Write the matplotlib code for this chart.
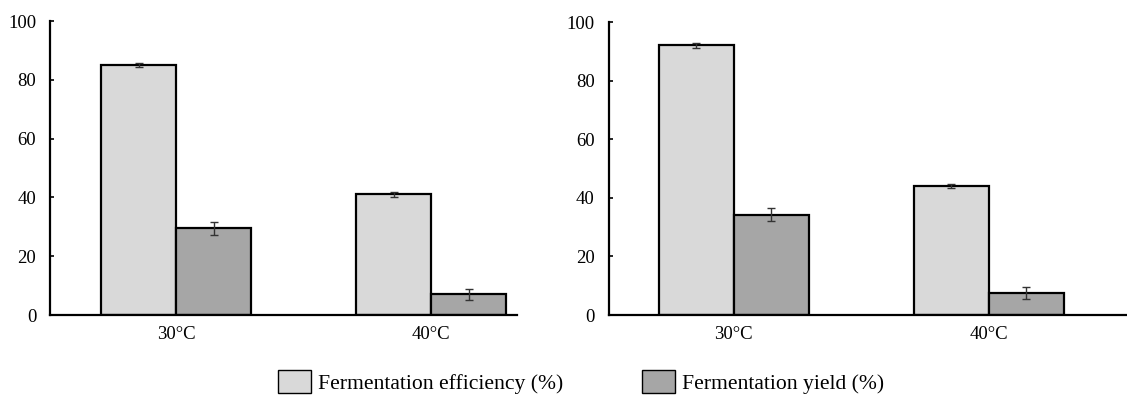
import matplotlib
matplotlib.use("Agg")
import matplotlib.pyplot as plt
import numpy as np
from matplotlib.patches import Patch

categories = ["30°C", "40°C"]
series_names = ["Fermentation efficiency (%)", "Fermentation yield (%)"]

left_efficiency = [85, 41]
left_efficiency_err = [0.8, 1.0]
left_yield = [29.5, 7]
left_yield_err = [2.2, 2.0]

right_efficiency = [92, 44]
right_efficiency_err = [0.7, 0.8]
right_yield = [34.3, 7.6]
right_yield_err = [2.1, 2.1]

yticks = [0, 20, 40, 60, 80, 100]

plt.rcParams['font.family'] = ['Liberation Serif', 'DejaVu Serif']

fig = plt.figure(figsize=(11.27, 3.98), dpi=100)
c_light = "#d9d9d9"
c_dark = "#a6a6a6"
w = 0.294

def draw(ax, eff, eff_err, yld, yld_err, xlim):
    x = np.arange(len(categories))
    ax.bar(x - w/2, eff, w, color=c_light, edgecolor="black", linewidth=1.6, zorder=2)
    ax.bar(x + w/2, yld, w, color=c_dark, edgecolor="black", linewidth=1.6, zorder=2)
    ax.errorbar(x - w/2, eff, yerr=eff_err, fmt="none", ecolor="#333333", elinewidth=1, capsize=3, zorder=3)
    ax.errorbar(x + w/2, yld, yerr=yld_err, fmt="none", ecolor="#333333", elinewidth=1, capsize=3, zorder=3)
    ax.set_xlim(*xlim)
    ax.set_ylim(0, 100)
    ax.set_yticks(yticks)
    ax.set_xticks(x)
    ax.set_xticklabels(categories, fontsize=13.5)
    ax.tick_params(axis='y', labelsize=13.5, direction='in', length=3, width=1.2, pad=10)
    ax.tick_params(axis='x', length=0, pad=8)
    for s in ["top", "right"]:
        ax.spines[s].set_visible(False)
    for s in ["left", "bottom"]:
        ax.spines[s].set_linewidth(1.6)
    ax.set_facecolor("white")

ax1 = fig.add_axes([0.0444, 0.2085, 0.4144, 0.7387])
draw(ax1, left_efficiency, left_efficiency_err, left_yield, left_yield_err, (-0.494, 1.337))
ax2 = fig.add_axes([0.540, 0.2085, 0.460, 0.7362])
draw(ax2, right_efficiency, right_efficiency_err, right_yield, right_yield_err, (-0.491, 1.541))

handles = [Patch(facecolor=c_light, edgecolor="black", linewidth=1.0),
           Patch(facecolor=c_dark, edgecolor="black", linewidth=1.0)]
fig.legend(handles, series_names, loc="center", bbox_to_anchor=(0.5155, 0.040), ncol=2,
           frameon=False, fontsize=15.6, handlelength=1.53, handleheight=1.26,
           handletextpad=0.32, columnspacing=3.6, borderpad=0, borderaxespad=0)

fig.savefig("out.png", dpi=100)
